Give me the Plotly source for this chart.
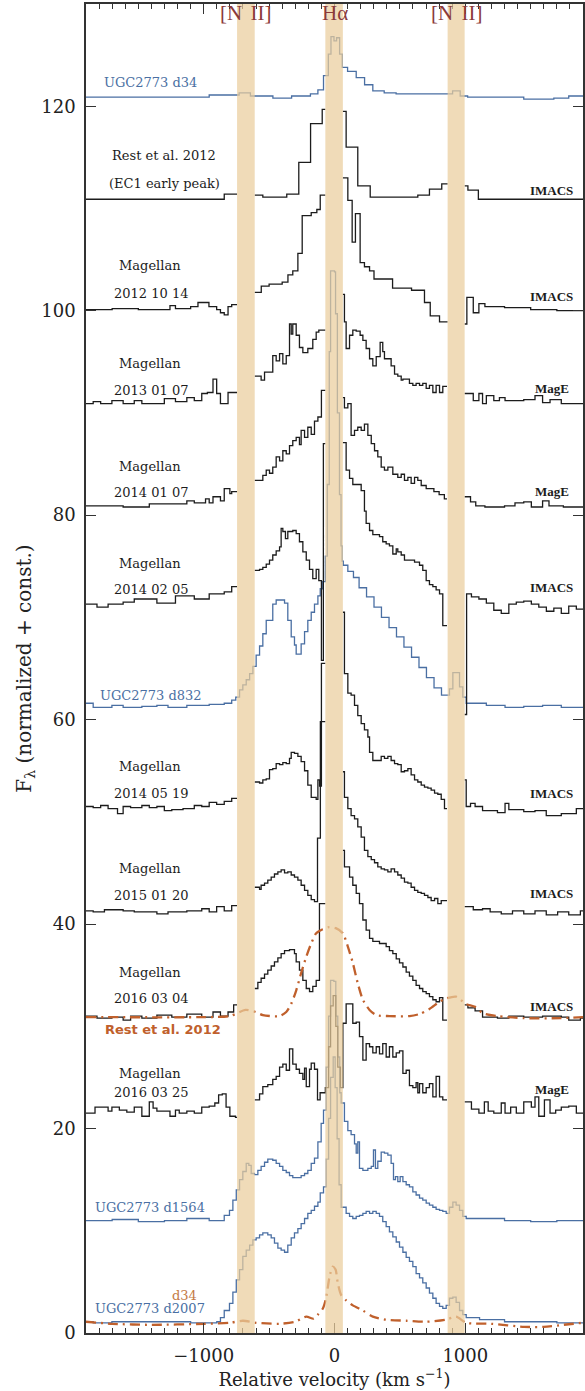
import plotly.graph_objects as go

# ---------------- data (velocity km/s, normalized flux + const) ----------------
# each spectrum: list of (bin start velocity, flux); None = masked region
D34_UGC = [(-1900, 120.9), (-958, 121.1), (-729, 121.3), (-643, 121.0), (-471, 120.8), (-328, 121.0),
           (-184, 121.2), (-127, 121.6), (-84, 123.0), (-47, 125.1), (-27, 126.8), (-4, 126.4), (16, 126.7),
           (39, 125.1), (59, 123.8), (100, 123.4), (166, 122.8), (230, 122.1), (293, 121.5), (380, 121.3),
           (471, 121.2), (875, 121.2), (903, 121.5), (961, 121.0), (1018, 120.9), (1447, 120.7),
           (1677, 120.8), (1791, 121.0)]

REST_EC1 = [(-1900, 110.9), (-843, 111.4), (-745, None), (-610, 111.3), (-548, 111.1), (-365, 111.4),
            (-273, 114.5), (-183, 118.3), (-94, 119.7), (-70, None), (64, 119.5), (89, 116.0), (178, 112.2),
            (273, 111.1), (637, 111.3), (726, 111.9), (820, 112.4), (865, None), (995, 112.2), (1020, 111.8),
            (1100, 110.9)]

MAG_121014 = [(-1900, 100.1), (-1700, 100.2), (-1500, 100.1), (-1258, 100.5), (-1216, 100.2), (-1100, 100.4),
              (-1044, 100.8), (-960, 100.4), (-901, 100.1), (-872, 99.8), (-843, 99.6), (-814, 100.4),
              (-786, 100.6), (-745, None), (-610, 101.8), (-560, 102.4), (-500, 102.6), (-400, 102.8),
              (-356, 103.5), (-319, 103.9), (-280, 105.6), (-247, 109.3), (-178, 109.6), (-135, 109.9),
              (-109, 111.3), (-70, None), (64, 113.0), (102, 110.8), (135, 106.7), (160, 109.5), (196, 104.7),
              (229, 104.3), (268, 103.9), (302, 103.1), (444, 102.2), (589, 102.0), (688, 100.8), (732, 99.5),
              (803, 98.9), (865, None), (995, 98.7), (1012, 101.3), (1061, 99.8), (1104, 100.7), (1150, 100.4),
              (1300, 100.3), (1500, 100.1), (1700, 100.0)]

MAG_130107 = [(-1900, 90.9), (-1845, 91.1), (-1788, 90.9), (-1702, 91.2), (-1616, 90.9), (-1531, 91.2),
              (-1473, 90.9), (-1301, 91.4), (-1216, 91.1), (-1129, 91.5), (-1072, 91.2), (-1015, 91.9),
              (-972, 92.0), (-929, 93.3), (-901, 91.9), (-872, 90.9), (-814, 92.0), (-745, None),
              (-610, 93.6), (-561, 93.2), (-535, 94.0), (-472, 95.6), (-446, 95.1), (-420, 95.8), (-395, 94.8),
              (-369, 95.6), (-344, 98.7), (-331, 97.7), (-319, 98.7), (-293, 97.6), (-268, 96.4), (-242, 95.9),
              (-204, 96.3), (-166, 97.2), (-140, 97.9), (-120, 98.1), (-70, None), (64, 101.6), (76, 98.9),
              (89, 96.3), (115, 97.6), (140, 98.1), (166, 98.0), (196, 97.6), (217, 97.1), (242, 96.3),
              (268, 95.3), (293, 94.6), (319, 95.5), (349, 96.9), (369, 96.0), (382, 95.3), (433, 94.6),
              (459, 93.8), (484, 93.6), (510, 93.2), (523, 93.3), (573, 92.9), (599, 92.7), (624, 92.9),
              (650, 92.7), (675, 92.9), (701, 92.4), (726, 92.7), (752, 92.0), (777, 92.7), (803, 92.0),
              (828, 92.6), (860, None), (995, 91.9), (1061, 91.2), (1104, 91.9), (1132, 90.9), (1161, 91.7),
              (1218, 91.2), (1261, 91.5), (1304, 91.2), (1447, 91.3), (1533, 91.7), (1591, 91.0), (1648, 91.3),
              (1734, 90.9)]

MAG_140107 = [(-1900, 80.9), (-1616, 80.8), (-1416, 81.1), (-1129, 81.4), (-1072, 81.2), (-986, 81.6),
              (-958, 81.2), (-929, 81.8), (-872, 81.4), (-843, 82.6), (-800, 82.1), (-786, 82.3), (-745, None),
              (-610, 83.4), (-548, 83.9), (-522, 84.4), (-497, 84.1), (-472, 84.7), (-446, 85.7), (-420, 85.3),
              (-395, 86.3), (-369, 86.0), (-344, 86.8), (-319, 87.3), (-293, 87.6), (-268, 86.9), (-255, 88.3),
              (-229, 87.6), (-204, 88.6), (-178, 87.9), (-153, 89.2), (-127, 89.6), (-100, 92.2), (-70, None),
              (64, 91.5), (76, 90.5), (102, 90.9), (127, 87.8), (153, 88.3), (178, 88.6), (204, 88.3),
              (229, 88.9), (255, 87.8), (281, 87.0), (306, 86.3), (331, 85.7), (357, 84.7), (382, 84.4),
              (408, 84.7), (446, 84.0), (484, 83.7), (510, 84.0), (535, 83.4), (561, 83.7), (586, 83.1),
              (612, 83.7), (637, 83.4), (663, 82.9), (701, 82.6), (760, 82.3), (800, 82.0), (840, 81.6),
              (860, None), (995, 81.8), (1040, 81.3), (1080, 80.9), (1150, 80.8), (1300, 80.9), (1380, 81.2),
              (1447, 81.3), (1505, 80.8), (1591, 81.4), (1640, 80.9), (1750, 80.8)]

MAG_140205 = [(-1900, 71.3), (-1816, 71.0), (-1731, 71.3), (-1616, 71.5), (-1531, 71.8), (-1358, 71.4),
              (-1216, 72.1), (-1072, 71.8), (-958, 72.3), (-843, 72.5), (-786, 73.0), (-745, None),
              (-610, 74.6), (-573, 74.7), (-548, 74.9), (-522, 75.2), (-497, 75.6), (-472, 76.1), (-446, 76.5),
              (-420, 76.9), (-408, 78.7), (-395, 78.4), (-375, 77.7), (-357, 78.4), (-319, 78.5), (-293, 78.2),
              (-268, 77.4), (-242, 76.4), (-216, 75.6), (-191, 74.7), (-166, 73.8), (-140, 74.7), (-120, 73.6),
              (-100, 65.8), (-85, 87.0), (-70, None), (64, 87.1), (89, 84.4), (115, 83.6), (140, 83.0),
              (204, 82.4), (229, 80.4), (242, 79.2), (268, 78.5), (293, 78.1), (344, 77.9), (369, 77.4),
              (395, 77.2), (420, 77.0), (446, 76.2), (472, 76.7), (484, 76.4), (510, 76.1), (535, 75.6),
              (586, 75.6), (612, 75.4), (650, 75.1), (675, 74.6), (701, 73.6), (726, 73.2), (752, 73.0),
              (777, 72.7), (803, 72.3), (828, 69.2), (860, None), (995, 60.5), (1010, 72.3), (1047, 72.0),
              (1104, 71.8), (1161, 71.4), (1218, 70.7), (1275, 70.4), (1333, 71.3), (1390, 71.5), (1447, 71.6),
              (1505, 71.3), (1562, 71.0), (1620, 70.6), (1677, 70.9), (1734, 70.4), (1791, 71.1), (1849, 70.8)]

D832_UGC = [(-1900, 61.6), (-1845, 61.2), (-1702, 61.4), (-1616, 61.2), (-1473, 61.3), (-1358, 61.4),
            (-1273, 61.2), (-1129, 61.4), (-958, 61.5), (-843, 61.6), (-786, 61.9), (-755, 62.2),
            (-726, 62.9), (-701, 63.4), (-675, 63.9), (-649, 64.5), (-624, 65.2), (-599, 66.3), (-573, 67.2),
            (-548, 68.4), (-522, 69.7), (-472, 71.3), (-446, 71.7), (-382, 71.4), (-357, 69.7), (-331, 68.1),
            (-306, 67.3), (-293, 66.4), (-255, 67.4), (-229, 68.6), (-204, 69.7), (-178, 70.5), (-153, 71.3),
            (-127, 72.1), (-109, 72.8), (-90, 73.5), (-70, 76.0), (-55, 83.0), (-40, 96.0), (-30, 103.9),
            (0, 103.8), (8, 99.7), (22, 90.0), (38, 82.0), (50, 77.0), (58, 75.5), (67, 75.1), (102, 74.5),
            (145, 73.9), (188, 72.9), (245, 72.0), (302, 71.0), (359, 70.0), (417, 69.0), (474, 68.1),
            (531, 67.1), (589, 66.1), (646, 65.1), (703, 64.1), (761, 63.1), (818, 62.4), (879, 63.0),
            (905, 64.6), (956, 63.2), (981, 62.2), (1007, 61.6), (1161, 61.4), (1304, 61.2), (1447, 61.3),
            (1591, 61.4), (1734, 61.2)]

MAG_140519 = [(-1900, 51.5), (-1845, 51.4), (-1788, 51.6), (-1731, 51.3), (-1659, 50.8), (-1616, 51.5),
              (-1559, 51.4), (-1473, 51.6), (-1416, 51.4), (-1358, 51.5), (-1301, 51.1), (-1244, 51.2),
              (-1158, 51.3), (-1072, 51.6), (-1015, 51.5), (-958, 51.9), (-901, 51.7), (-843, 52.0),
              (-786, 52.3), (-745, None), (-610, 53.9), (-573, 53.8), (-548, 54.1), (-522, 54.2), (-497, 55.1),
              (-472, 55.2), (-446, 55.7), (-420, 55.6), (-395, 55.8), (-369, 55.7), (-344, 56.2), (-331, 56.8),
              (-306, 56.7), (-280, 56.4), (-255, 55.9), (-229, 55.0), (-204, 53.6), (-178, 52.4), (-140, 52.2),
              (-127, 54.1), (-114, 53.5), (-100, 65.5), (-70, None), (64, 70.5), (76, 64.5), (102, 62.6),
              (127, 62.4), (153, 61.4), (178, 60.4), (204, 59.6), (229, 59.0), (255, 58.3), (268, 56.8),
              (293, 56.0), (332, 56.0), (357, 56.4), (382, 56.2), (408, 56.4), (433, 56.0), (459, 55.7),
              (484, 55.6), (510, 54.9), (535, 55.0), (561, 55.2), (586, 54.6), (612, 54.1), (637, 53.9),
              (663, 53.6), (688, 53.4), (714, 53.3), (739, 53.1), (765, 52.8), (790, 52.7), (816, 52.2),
              (841, 51.3), (860, None), (995, 54.1), (1007, 51.5), (1040, 51.8), (1075, 51.5), (1132, 51.1),
              (1246, 50.9), (1304, 51.8), (1333, 51.2), (1447, 51.0), (1533, 51.1), (1619, 50.6), (1734, 50.8),
              (1849, 51.3)]

MAG_150120 = [(-1900, 41.3), (-1845, 41.2), (-1759, 41.4), (-1616, 41.3), (-1531, 41.2), (-1358, 41.0),
              (-1273, 41.2), (-1129, 41.3), (-1015, 41.5), (-958, 41.2), (-901, 41.7), (-843, 41.3),
              (-786, 41.8), (-745, None), (-610, 43.6), (-573, 43.4), (-561, 43.8), (-535, 44.0), (-510, 44.3),
              (-484, 44.6), (-459, 44.9), (-433, 45.1), (-408, 45.3), (-382, 45.0), (-357, 45.1), (-331, 44.8),
              (-306, 44.6), (-280, 44.3), (-255, 43.8), (-229, 43.3), (-204, 42.8), (-178, 42.4), (-153, 42.2),
              (-130, 48.4), (-108, 59.8), (-70, None), (64, 54.9), (76, 52.4), (102, 51.3), (127, 50.6),
              (153, 50.3), (178, 49.5), (204, 48.5), (229, 47.2), (255, 46.6), (281, 46.3), (306, 46.0),
              (331, 45.6), (357, 45.4), (382, 45.3), (408, 45.1), (433, 45.4), (459, 45.1), (484, 44.8),
              (510, 44.5), (535, 44.1), (561, 44.0), (586, 43.6), (612, 43.3), (637, 43.1), (663, 43.0),
              (688, 42.8), (714, 42.6), (739, 42.3), (765, 42.5), (790, 42.0), (816, 42.3), (841, 42.3),
              (860, None), (995, 41.7), (1061, 41.4), (1132, 41.5), (1190, 41.2), (1275, 41.0), (1361, 41.3),
              (1447, 41.0), (1533, 41.3), (1619, 40.9), (1706, 41.2), (1791, 40.9), (1880, 41.3)]

MAG_160304 = [(-1900, 31.0), (-1816, 30.8), (-1702, 30.9), (-1616, 30.6), (-1559, 31.0), (-1473, 30.8),
              (-1358, 31.1), (-1244, 30.9), (-1129, 31.2), (-1015, 30.9), (-929, 31.4), (-872, 31.0),
              (-814, 31.4), (-771, 32.1), (-745, None), (-610, 33.7), (-586, 34.3), (-561, 34.7), (-535, 35.1),
              (-510, 35.5), (-484, 35.9), (-459, 36.3), (-433, 36.7), (-408, 37.1), (-382, 37.4), (-344, 37.5),
              (-306, 37.1), (-293, 36.3), (-268, 35.5), (-242, 34.5), (-216, 33.7), (-191, 33.4), (-166, 33.9),
              (-140, 34.5), (-115, 42.0), (-70, None), (64, 47.2), (76, 45.6), (115, 44.6), (140, 43.8),
              (166, 43.0), (191, 42.0), (217, 40.4), (242, 39.4), (268, 38.6), (293, 38.3), (344, 38.1),
              (395, 37.8), (420, 37.4), (446, 37.1), (472, 36.6), (497, 36.2), (523, 35.8), (548, 35.3),
              (573, 34.9), (599, 34.5), (624, 34.0), (650, 33.7), (675, 33.4), (701, 33.2), (726, 32.9),
              (752, 32.6), (777, 32.4), (803, 32.8), (828, 30.6), (860, None), (995, 32.1), (1020, 31.8),
              (1075, 31.5), (1132, 30.9), (1246, 30.8), (1333, 31.0), (1447, 30.9), (1591, 31.0), (1734, 30.9),
              (1791, 30.6), (1880, 30.8)]

MAG_160325 = [(-1900, 21.5), (-1831, 22.1), (-1731, 21.7), (-1702, 22.1), (-1645, 21.8), (-1588, 21.6),
              (-1531, 22.1), (-1473, 21.2), (-1416, 22.6), (-1387, 22.0), (-1358, 21.7), (-1258, 21.2),
              (-1216, 21.8), (-1187, 21.5), (-1129, 21.7), (-1072, 21.5), (-1015, 22.1), (-958, 22.2),
              (-915, 22.5), (-886, 23.3), (-858, 23.4), (-829, 22.1), (-800, 21.2), (-757, 21.1), (-745, None),
              (-610, 22.8), (-573, 23.4), (-548, 24.1), (-510, 24.3), (-472, 24.8), (-446, 25.1), (-420, 26.0),
              (-395, 26.3), (-369, 25.7), (-344, 27.8), (-319, 26.3), (-293, 25.8), (-268, 25.4), (-242, 24.8),
              (-229, 25.9), (-216, 24.1), (-191, 25.8), (-178, 26.4), (-153, 25.8), (-130, 22.8), (-110, 23.5),
              (-70, 24.0), (-45, 28.0), (-30, 32.0), (-10, 33.0), (10, 30.0), (25, 26.0), (45, 24.0),
              (64, 30.3), (89, 32.2), (140, 30.3), (166, 30.4), (191, 29.0), (217, 26.7), (242, 28.3),
              (268, 28.0), (293, 27.4), (319, 28.0), (344, 27.3), (369, 28.3), (395, 27.0), (420, 28.0),
              (446, 27.0), (472, 27.4), (497, 27.6), (523, 25.4), (548, 25.7), (573, 24.2), (599, 24.0),
              (624, 24.5), (637, 23.5), (650, 24.4), (675, 23.5), (701, 24.0), (726, 24.4), (752, 23.1),
              (777, 25.1), (803, 23.1), (828, 22.8), (860, None), (995, 22.6), (1047, 21.9), (1104, 21.5),
              (1146, 22.6), (1175, 21.7), (1218, 21.5), (1275, 22.5), (1304, 21.5), (1347, 22.1), (1390, 21.5),
              (1447, 22.6), (1505, 22.1), (1533, 23.1), (1562, 21.2), (1605, 22.8), (1648, 21.5), (1691, 21.8),
              (1734, 22.1), (1791, 22.2), (1849, 21.5)]

D1564_UGC = [(-1900, 11.0), (-1700, 11.1), (-1500, 10.9), (-1300, 11.0), (-1129, 11.2), (-958, 11.0),
             (-843, 11.5), (-803, 12.0), (-777, 13.0), (-751, 14.0), (-726, 15.0), (-701, 15.8), (-675, 16.6),
             (-655, 16.4), (-637, 15.6), (-612, 15.5), (-586, 15.9), (-561, 16.3), (-535, 16.7), (-510, 17.0),
             (-472, 16.9), (-446, 16.6), (-420, 16.3), (-395, 15.9), (-369, 15.7), (-344, 15.4), (-319, 15.2),
             (-255, 15.4), (-229, 15.6), (-204, 15.9), (-178, 16.6), (-153, 17.1), (-127, 18.7), (-102, 20.5),
             (-84, 21.8), (-63, 26.0), (-45, 31.0), (-30, 34.5), (-5, 34.4), (10, 31.0), (25, 27.0),
             (40, 23.5), (51, 22.5), (76, 20.7), (102, 19.8), (127, 19.4), (153, 18.5), (166, 17.6),
             (178, 18.7), (191, 16.1), (217, 15.9), (255, 16.1), (281, 16.3), (298, 17.9), (313, 16.1),
             (331, 16.8), (357, 17.7), (382, 17.6), (408, 17.4), (433, 16.6), (451, 15.0), (466, 15.3),
             (484, 14.8), (502, 15.3), (523, 14.8), (548, 14.5), (573, 14.3), (599, 13.8), (624, 13.5),
             (650, 13.2), (675, 13.0), (701, 12.7), (726, 12.5), (752, 12.3), (777, 12.1), (803, 12.0),
             (828, 11.9), (854, 11.7), (879, 12.3), (905, 12.8), (930, 12.5), (956, 12.0), (981, 11.4),
             (1007, 11.2), (1109, 11.2), (1300, 11.0), (1500, 10.9), (1700, 11.0)]

D2007_UGC = [(-1900, 1.1), (-1845, 1.0), (-1702, 1.1), (-1400, 1.1), (-1100, 1.0), (-900, 1.1), (-872, 1.5),
             (-843, 2.2), (-803, 2.9), (-777, 4.0), (-751, 5.2), (-726, 6.2), (-701, 7.5), (-675, 8.1),
             (-649, 8.6), (-624, 9.1), (-599, 9.3), (-573, 9.6), (-548, 9.8), (-510, 9.6), (-484, 9.3),
             (-459, 8.8), (-433, 8.3), (-408, 8.1), (-382, 7.9), (-357, 8.6), (-331, 9.3), (-306, 9.8),
             (-280, 10.2), (-255, 10.7), (-229, 11.2), (-204, 11.7), (-178, 12.0), (-153, 12.4), (-127, 12.8),
             (-109, 13.7), (-84, 14.3), (-63, 17.0), (-45, 21.0), (-30, 25.0), (-10, 27.0), (5, 24.0),
             (20, 19.0), (35, 14.5), (51, 12.3), (89, 11.7), (115, 11.4), (140, 11.2), (166, 11.4),
             (191, 11.5), (217, 11.7), (242, 11.9), (268, 11.7), (293, 11.9), (319, 11.7), (344, 11.4),
             (369, 10.9), (395, 10.4), (420, 9.9), (446, 9.4), (472, 8.9), (497, 8.4), (523, 7.9), (548, 7.4),
             (573, 7.0), (599, 6.5), (624, 5.8), (650, 5.4), (675, 4.9), (701, 4.4), (726, 3.9), (752, 3.4),
             (777, 2.9), (803, 2.6), (828, 2.4), (854, 2.7), (879, 3.4), (905, 3.5), (930, 3.0), (956, 2.2),
             (981, 1.8), (1007, 1.5), (1109, 1.3), (1300, 1.1), (1500, 1.1), (1700, 1.0)]

# smooth model curves (dash-dot)
REST_MODEL_V = [-1900, -1000, -800, -680, -604, -548, -420, -369, -331, -293, -255, -216, -178, -140, -90, -40,
                10, 64, 102, 140, 178, 217, 268, 319, 420, 573, 650, 726, 803, 849, 930, 1002, 1075, 1132, 1246,
                1447, 1734, 1900]
REST_MODEL_F = [30.9, 30.9, 31.0, 31.6, 31.4, 31.1, 31.0, 31.4, 32.2, 33.5, 35.2, 36.8, 38.1, 39.1, 39.5, 39.7,
                39.6, 39.1, 37.8, 36.2, 34.2, 32.6, 31.6, 31.1, 31.0, 31.0, 31.2, 31.7, 32.4, 32.7, 32.9, 32.2,
                31.9, 31.3, 31.0, 30.8, 30.8, 30.9]
D34_MODEL_V = [-1900, -1700, -1400, -1000, -800, -700, -600, -420, -300, -216, -160, -127, -89, -63, -38, -13,
               8, 25, 51, 89, 140, 217, 293, 395, 550, 700, 850, 930, 1007, 1200, 1450, 1600, 1750, 1900]
D34_MODEL_F = [1.1, 0.9, 0.8, 0.9, 1.0, 1.2, 1.0, 0.9, 1.1, 1.6, 1.4, 1.8, 2.4, 3.5, 5.5, 6.5, 6.2, 4.9, 3.7,
               3.2, 2.7, 2.2, 1.6, 1.3, 1.2, 1.1, 1.3, 1.6, 1.0, 0.9, 0.6, 0.6, 0.8, 1.0]

BANDS = [(-745, -610), (-70, 64), (865, 995)]
Y_TICKS = [0, 20, 40, 60, 80, 100, 120]
X_TICKS = [-1000, 0, 1000]
X_TICKTEXT = ["\u22121000", "0", "1000"]

BLACK = "#1c1c1c"
BLUE = "#4a6fa3"
ORANGE = "#c0602c"
BAND = "rgb(234,205,156)"
LINECOL = "#333333"


def steps(pairs, vend=1900):
    xs, ys = [], []
    for i, (v, f) in enumerate(pairs):
        v1 = pairs[i + 1][0] if i + 1 < len(pairs) else vend
        if f is None:
            xs.append(None)
            ys.append(None)
        else:
            xs += [v, v1]
            ys += [f, f]
    return xs, ys


fig = go.Figure()

black_specs = [REST_EC1, MAG_121014, MAG_130107, MAG_140107, MAG_140205, MAG_140519, MAG_150120, MAG_160304,
               MAG_160325]
blue_specs = [D34_UGC, D832_UGC, D1564_UGC, D2007_UGC]

for s in blue_specs:
    x, y = steps(s)
    fig.add_trace(go.Scatter(x=x, y=y, mode="lines", line=dict(color=BLUE, width=1.3),
                             hoverinfo="skip", showlegend=False))
for s in black_specs:
    x, y = steps(s)
    fig.add_trace(go.Scatter(x=x, y=y, mode="lines", line=dict(color=BLACK, width=1.3),
                             hoverinfo="skip", showlegend=False))

for vv, ff in [(REST_MODEL_V, REST_MODEL_F), (D34_MODEL_V, D34_MODEL_F)]:
    fig.add_trace(go.Scatter(x=vv, y=ff, mode="lines",
                             line=dict(color=ORANGE, width=2.3, dash="10px,5px,2px,5px", shape="spline",
                                       smoothing=0.7),
                             hoverinfo="skip", showlegend=False))

for a, b in BANDS:
    fig.add_shape(type="rect", xref="x", yref="y", x0=a, x1=b, y0=0, y1=130, fillcolor=BAND,
                  opacity=0.72, line=dict(width=0), layer="above")

SERIF = "DejaVu Serif"
LABELS = [
    ("UGC2773 d34", -1410, 122.3, BLUE),
    ("Rest et al. 2012", -1307, 115.2, BLACK),
    ("(EC1 early peak)", -1300, 112.4, BLACK),
    ("Magellan", -1410, 104.4, BLACK), ("2012 10 14", -1405, 101.7, BLACK),
    ("Magellan", -1410, 94.8, BLACK), ("2013 01 07", -1405, 92.2, BLACK),
    ("Magellan", -1410, 84.8, BLACK), ("2014 01 07", -1405, 82.2, BLACK),
    ("Magellan", -1410, 75.3, BLACK), ("2014 02 05", -1405, 72.7, BLACK),
    ("UGC2773 d832", -1405, 62.4, BLUE),
    ("Magellan", -1410, 55.4, BLACK), ("2014 05 19", -1405, 52.8, BLACK),
    ("Magellan", -1410, 45.4, BLACK), ("2015 01 20", -1405, 42.8, BLACK),
    ("Magellan", -1410, 35.3, BLACK), ("2016 03 04", -1405, 32.7, BLACK),
    ("Magellan", -1410, 25.4, BLACK), ("2016 03 25", -1405, 23.5, BLACK),
    ("UGC2773 d1564", -1414, 12.3, BLUE),
    ("UGC2773 d2007", -1414, 2.4, BLUE),
]
for t, x, y, c in LABELS:
    fig.add_annotation(x=x, y=y, text=t, showarrow=False, font=dict(family=SERIF, size=13, color=c),
                       xanchor="center", yanchor="middle")

INSTR = [("IMACS", 111.8), ("IMACS", 101.4), ("MagE", 92.4), ("MagE", 82.3), ("IMACS", 72.9),
         ("IMACS", 52.8), ("IMACS", 43.0), ("IMACS", 31.9), ("MagE", 23.8)]
for t, y in INSTR:
    fig.add_annotation(x=1660, y=y, text="<b>" + t + "</b>", showarrow=False,
                       font=dict(family="Liberation Serif", size=13, color=BLACK),
                       xanchor="center", yanchor="middle")

fig.add_annotation(x=-1311, y=29.7, text="<b>Rest et al. 2012</b>", showarrow=False,
                   font=dict(family="DejaVu Sans", size=13, color=ORANGE), xanchor="center", yanchor="middle")
fig.add_annotation(x=-1147, y=3.7, text="d34", showarrow=False,
                   font=dict(family=SERIF, size=13, color="#c47a45"), xanchor="center", yanchor="middle")

for t, x in [("[N\u2009\u2009II]", -673), ("H\u03b1", 0), ("[N\u2009\u2009II]", 933)]:
    fig.add_annotation(x=x, y=129.1, text=t, showarrow=False,
                       font=dict(family="Liberation Serif", size=21, color="#8b3a3a"),
                       xanchor="center", yanchor="middle")

fig.update_layout(
    width=585, height=1391,
    margin=dict(l=86, r=2, t=4, b=58, autoexpand=False),
    plot_bgcolor="white", paper_bgcolor="white",
    font=dict(family=SERIF, color="#222222"),
)
fig.update_xaxes(range=[-1900, 1900], tickvals=X_TICKS, ticktext=X_TICKTEXT, ticks="inside", ticklen=10,
                 tickwidth=1.2, tickcolor=LINECOL, showline=True, linecolor=LINECOL, linewidth=1.5,
                 mirror="ticks", showgrid=False, zeroline=False, ticklabelstandoff=6, automargin=False,
                 tickfont=dict(family=SERIF, size=18, color="#222222"),
                 minor=dict(dtick=100, tick0=0, ticks="inside", ticklen=5, tickwidth=1, tickcolor=LINECOL,
                            showgrid=False),
                 title=dict(text="Relative velocity (km s<sup>\u22121</sup>)",
                            font=dict(family=SERIF, size=18, color="#222222"), standoff=2))
fig.update_yaxes(range=[0, 130], tickvals=Y_TICKS, ticks="inside", ticklen=10, tickwidth=1.2,
                 tickcolor=LINECOL, showline=True, linecolor=LINECOL, linewidth=1.5, mirror="ticks",
                 showgrid=False, zeroline=False, ticklabelstandoff=5, automargin=False,
                 tickfont=dict(family=SERIF, size=18, color="#222222"),
                 title=dict(text="F<sub>\u03bb</sub> (normalized + const.)",
                            font=dict(family=SERIF, size=20, color="#222222"), standoff=4))

fig.write_html("out.html")
